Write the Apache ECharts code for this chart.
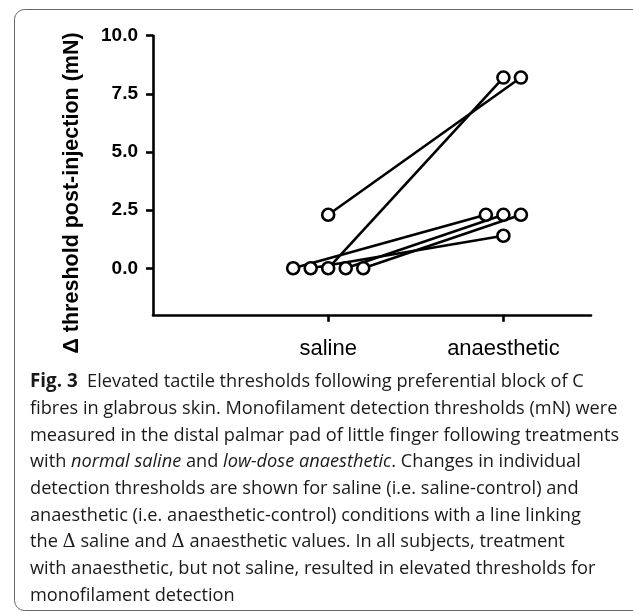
<!DOCTYPE html>
<html><head><meta charset="utf-8">
<script src="https://cdn.jsdelivr.net/npm/echarts@6/dist/echarts.min.js"></script>
<style>html,body{margin:0;padding:0;background:#fff}#c{width:633px;height:615px}</style>
</head><body><div id="c"></div>
<script>
// ---- data ----
const categories = ['saline', 'anaesthetic'];
// one entry per subject (Δ threshold, mN)
const salineValues      = [0,    0,    0, 2.3, 0,   0];
const anaestheticValues = [2.3,  1.4,  8.2, 8.2, 2.3, 2.3];
// horizontal scatter of points within each group (in category units)
const salineJitter      = [-0.2, -0.1, 0, 0,   0.1, 0.2];
const anaestheticJitter = [-0.1, 0,    0, 0.1, 0,   0.1];
const yTicks = [0, 2.5, 5, 7.5, 10];
const yAxisTitle = 'Δ threshold post-injection (mN)';
const captionLines = [
  '{b|Fig. 3}  Elevated tactile thresholds following preferential block of C',
  'fibres in glabrous skin. Monofilament detection thresholds (mN) were',
  'measured in the distal palmar pad of little finger following treatments',
  'with {i|normal saline} and {i|low-dose anaesthetic}. Changes in individual',
  'detection thresholds are shown for saline (i.e. saline-control) and',
  'anaesthetic (i.e. anaesthetic-control) conditions with a line linking',
  'the {d|Δ} saline and {d|Δ} anaesthetic values. In all subjects, treatment',
  'with anaesthetic, but not saline, resulted in elevated thresholds for',
  'monofilament detection'
];

// ---- chart ----
const FONT = "'Liberation Sans', Arial, sans-serif";
const CAP_FONT = "'Open Sans', 'Noto Sans', sans-serif";
const CAP_SIZE = 18.2;
const chart = echarts.init(document.getElementById('c'), null, {renderer: 'canvas'});

const lineSeries = salineValues.map((s, i) => ({
  type: 'line',
  data: [[1 + salineJitter[i], s], [2 + anaestheticJitter[i], anaestheticValues[i]]],
  showSymbol: false,
  symbol: 'none',
  lineStyle: {color: '#000', width: 2.6},
  silent: true,
  z: 2
}));
const points = [];
salineValues.forEach((s, i) => points.push([1 + salineJitter[i], s]));
anaestheticValues.forEach((a, i) => points.push([2 + anaestheticJitter[i], a]));

const graphics = [
  {type: 'rect', shape: {x: 14.5, y: 9.5, width: 660, height: 601, r: 10},
   style: {fill: 'none', stroke: '#666', lineWidth: 1}, silent: true},
  {type: 'text', x: 72, y: 193, rotation: Math.PI / 2,
   style: {text: yAxisTitle, font: 'bold 21.5px ' + FONT, fill: '#000', align: 'center', verticalAlign: 'middle'}}
];
captionLines.forEach((t, k) => {
  graphics.push({
    type: 'text', x: 30, y: 391 + k * 26.67,
    style: {
      text: t, font: CAP_SIZE + 'px ' + CAP_FONT, fill: '#1a1a1a', verticalAlign: 'bottom',
      rich: {
        b: {fontWeight: 'bold', fontSize: CAP_SIZE + 0.6, fontFamily: CAP_FONT, fill: '#1a1a1a'},
        i: {fontStyle: 'italic', fontSize: CAP_SIZE, fontFamily: CAP_FONT, fill: '#1a1a1a'},
        d: {fontSize: CAP_SIZE, fontFamily: "'DejaVu Serif', serif", fill: '#1a1a1a'}
      }
    }
  });
});

chart.setOption({
  animation: false,
  grid: {left: 153, right: 42, top: 35.7, bottom: 300.2},
  xAxis: {
    type: 'value', min: 0, max: 2.5,
    splitLine: {show: false},
    axisLine: {onZero: false, lineStyle: {color: '#000', width: 2.6}},
    axisTick: {customValues: [1, 2], length: 7, lineStyle: {color: '#000', width: 2.6}},
    axisLabel: {customValues: [1, 2], formatter: v => categories[Math.round(v) - 1],
                fontFamily: FONT, fontSize: 22, color: '#000', margin: 23}
  },
  yAxis: {
    type: 'value', min: -2, max: 10,
    splitLine: {show: false},
    axisLine: {show: true, onZero: false, lineStyle: {color: '#000', width: 2.6}},
    axisTick: {show: true, customValues: yTicks, length: 7, lineStyle: {color: '#000', width: 2.6}},
    axisLabel: {customValues: yTicks, formatter: v => v.toFixed(1),
                fontFamily: FONT, fontSize: 19, fontWeight: 'bold', color: '#000', margin: 15}
  },
  series: lineSeries.concat([{
    type: 'scatter', data: points, symbol: 'circle', symbolSize: 12,
    itemStyle: {color: '#fff', borderColor: '#000', borderWidth: 2.6, opacity: 1},
    z: 5, silent: true
  }]),
  graphic: graphics
});
</script></body></html>
